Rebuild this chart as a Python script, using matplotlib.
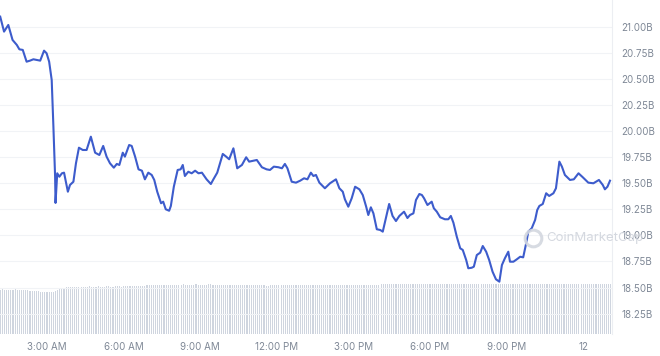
import numpy as np
import matplotlib.pyplot as plt

# market cap line: minutes since midnight -> value in billions USD
minutes = [70, 79, 89, 99, 109, 115, 123, 132, 140, 148, 156, 164, 173, 179, 185,
           191, 195, 199, 200, 204, 209, 215, 220, 229, 234, 242, 248, 255, 264, 273,
           283, 293, 303, 312, 320, 328, 337, 344, 350, 358, 363, 373, 379, 387, 395,
           403, 410, 418, 426, 432, 439, 448, 453, 459, 467, 471, 478, 487, 494, 499,
           504, 512, 520, 528, 536, 544, 555, 565, 571, 580, 593, 601, 608, 618, 627,
           638, 648, 655, 665, 673, 685, 696, 704, 713, 724, 732, 739, 745, 755, 765,
           775, 784, 792, 800, 806, 812, 820, 833, 845, 859, 867, 875, 880, 888, 896,
           904, 914, 922, 930, 935, 941, 947, 955, 963, 969, 977, 984, 992, 1000, 1008,
           1019, 1027, 1033, 1041, 1047, 1055, 1061, 1066, 1074, 1084, 1089, 1096, 1104, 1115, 1123,
           1129, 1135, 1143, 1151, 1157, 1165, 1170, 1178, 1183, 1190, 1198, 1204, 1212, 1219, 1227,
           1235, 1243, 1249, 1256, 1264, 1268, 1276, 1284, 1292, 1299, 1306, 1311, 1319, 1327, 1332,
           1337, 1345, 1353, 1360, 1370, 1376, 1384, 1390, 1397, 1409, 1418, 1429, 1439, 1452, 1464,
           1477, 1486, 1491, 1497, 1503]
market_cap = [21.104, 20.960, 21.024, 20.880, 20.832, 20.790, 20.784, 20.671, 20.681, 20.694,
              20.688, 20.681, 20.777, 20.752, 20.671, 20.495, 20.046, 19.565, 19.313, 19.598,
              19.565, 19.598, 19.604, 19.421, 19.486, 19.517, 19.694, 19.844, 19.822, 19.822,
              19.950, 19.796, 19.774, 19.861, 19.758, 19.694, 19.652, 19.688, 19.678, 19.796,
              19.758, 19.870, 19.861, 19.758, 19.636, 19.623, 19.540, 19.604, 19.582, 19.534,
              19.421, 19.310, 19.325, 19.252, 19.238, 19.284, 19.469, 19.630, 19.636, 19.678,
              19.572, 19.613, 19.598, 19.623, 19.598, 19.604, 19.540, 19.495, 19.540, 19.604,
              19.784, 19.758, 19.733, 19.838, 19.646, 19.678, 19.752, 19.710, 19.719, 19.726,
              19.656, 19.636, 19.630, 19.662, 19.656, 19.646, 19.688, 19.646, 19.517, 19.508,
              19.527, 19.550, 19.540, 19.604, 19.572, 19.582, 19.508, 19.454, 19.502, 19.540,
              19.454, 19.421, 19.348, 19.277, 19.358, 19.469, 19.444, 19.389, 19.277, 19.197,
              19.271, 19.213, 19.060, 19.053, 19.037, 19.181, 19.303, 19.188, 19.139, 19.188,
              19.229, 19.168, 19.197, 19.213, 19.341, 19.399, 19.389, 19.358, 19.293, 19.325,
              19.262, 19.229, 19.175, 19.156, 19.156, 19.188, 19.123, 18.988, 18.877, 18.861,
              18.765, 18.685, 18.690, 18.700, 18.812, 18.835, 18.899, 18.844, 18.765, 18.652,
              18.579, 18.556, 18.716, 18.781, 18.844, 18.748, 18.748, 18.771, 18.796, 18.790,
              18.925, 19.037, 19.069, 19.149, 19.245, 19.284, 19.303, 19.406, 19.380, 19.406,
              19.454, 19.710, 19.662, 19.582, 19.534, 19.540, 19.598, 19.560, 19.508, 19.502,
              19.534, 19.486, 19.444, 19.469, 19.527]

# volume bars, one every 5 minutes starting 1:10 AM (billions USD)
vol_start = 70
volume = [
    0.90, 0.91, 0.90, 0.90, 0.89, 0.90, 0.90, 0.91, 0.90, 0.89, 0.89, 0.90, 0.89, 0.89, 0.88, 0.88, 0.88, 0.87, 0.87, 0.86, 0.86, 0.85, 0.85, 0.85,
    0.85, 0.86, 0.88, 0.90, 0.92, 0.93, 0.94, 0.95, 0.95, 0.96, 0.96, 0.96, 0.96, 0.95, 0.96, 0.96, 0.96, 0.96, 0.97, 0.96, 0.96, 0.96, 0.97, 0.96,
    0.96, 0.96, 0.97, 0.97, 0.96, 0.96, 0.97, 0.97, 0.97, 0.96, 0.97, 0.97, 0.97, 0.97, 0.98, 0.98, 0.97, 0.98, 0.98, 0.98, 0.98, 0.99, 0.99, 0.99,
    0.99, 1.00, 1.00, 0.99, 1.00, 1.00, 1.00, 1.00, 1.00, 1.00, 0.99, 1.00, 1.00, 1.00, 1.01, 1.00, 1.00, 1.00, 1.00, 1.00, 1.01, 1.00, 1.00, 1.00,
    1.00, 1.00, 1.01, 1.01, 1.00, 1.00, 1.00, 1.00, 1.00, 1.00, 1.00, 1.00, 1.00, 0.99, 0.99, 1.00, 0.99, 0.99, 0.99, 0.99, 0.99, 0.99, 0.99, 0.99,
    0.99, 0.99, 0.99, 0.99, 0.99, 0.98, 0.98, 0.99, 0.99, 0.99, 0.99, 0.99, 0.99, 0.99, 0.99, 0.99, 0.99, 0.99, 0.99, 0.99, 1.00, 1.00, 1.00, 1.00,
    1.00, 1.00, 1.00, 1.00, 1.00, 1.00, 1.00, 1.00, 1.00, 1.00, 1.00, 1.00, 1.00, 1.00, 1.00, 1.00, 1.00, 1.00, 1.00, 1.00, 1.00, 1.00, 1.00, 1.00,
    1.00, 1.00, 1.00, 1.00, 1.00, 1.00, 1.00, 1.00, 1.00, 1.00, 1.00, 1.01, 1.01, 1.01, 1.01, 1.01, 1.01, 1.01, 1.01, 1.01, 1.01, 1.01, 1.01, 1.01,
    1.01, 1.01, 1.01, 1.01, 1.01, 1.01, 1.01, 1.01, 1.01, 1.01, 1.01, 1.01, 1.01, 1.01, 1.01, 1.01, 1.02, 1.02, 1.02, 1.02, 1.02, 1.02, 1.02, 1.02,
    1.02, 1.02, 1.02, 1.02, 1.02, 1.02, 1.02, 1.02, 1.02, 1.02, 1.02, 1.02, 1.02, 1.02, 1.02, 1.02, 1.02, 1.02, 1.02, 1.02, 1.02, 1.02, 1.02, 1.02,
    1.02, 1.02, 1.02, 1.02, 1.02, 1.02, 1.02, 1.02, 1.02, 1.02, 1.02, 1.02, 1.02, 1.02, 1.02, 1.02, 1.02, 1.02, 1.02, 1.02, 1.02, 1.02, 1.02, 1.02,
    1.02, 1.02, 1.02, 1.02, 1.02, 1.02, 1.02, 1.02, 1.02, 1.02, 1.02, 1.02, 1.02, 1.02, 1.02, 1.02, 1.02, 1.02, 1.02, 1.02, 1.02, 1.02, 1.02, 1.02,
]
vol_minutes = vol_start + 5 * np.arange(len(volume))

x_ticks = [180, 360, 540, 720, 900, 1080, 1260, 1440]
x_labels = ['3:00 AM', '6:00 AM', '9:00 AM', '12:00 PM', '3:00 PM', '6:00 PM', '9:00 PM', '12']
y_ticks = [18.25, 18.50, 18.75, 19.00, 19.25, 19.50, 19.75, 20.00, 20.25, 20.50, 20.75, 21.00]

plt.rcParams['font.family'] = ['Inter', 'DejaVu Sans']

fig = plt.figure(figsize=(6.6, 3.56), dpi=100)
ax = fig.add_axes([0, 22 / 356, 612 / 660, 334 / 356])
ax2 = ax.twinx()

# volume bars underneath
ax2.bar(vol_minutes, volume, width=2.6, color='#cfd5df', linewidth=0, align='center')
ax2.set_ylim(0, 6.8)
ax2.set_yticks([])
ax2.set_zorder(0)
for s in ax2.spines.values():
    s.set_visible(False)

ax.set_zorder(1)
ax.patch.set_visible(False)
ax.plot(minutes, market_cap, color='#3d5ccc', lw=1.5, solid_joinstyle='round')

ax.set_xlim(69.5, 1507.7)
ax.set_ylim(18.053, 21.264)
ax.set_yticks(y_ticks)
ax.set_yticklabels([f'{v:.2f}B' for v in y_ticks])
ax.yaxis.tick_right()
ax.set_xticks(x_ticks)
ax.set_xticklabels(x_labels)
ax.tick_params(axis='both', length=0, colors='#7f8896', labelsize=7)
ax.tick_params(axis='y', pad=7)
ax.tick_params(axis='x', pad=6)
ax.grid(axis='y', color='#f1f3f6', lw=0.8)
ax.grid(axis='x', visible=False)
for name, s in ax.spines.items():
    s.set_visible(name == 'right')
ax.spines['right'].set_color('#eceef2')
ax.spines['right'].set_linewidth(0.8)

# watermark (logo ring + name), partly under the right-hand labels
ax.plot([533 / 612], [(334 - 238) / 334], marker='o', ms=12, mfc='none', mec='#d3d7df',
        mew=2.2, zorder=5, alpha=0.9, transform=ax.transAxes, clip_on=False)
ax.text(546 / 612, (334 - 238) / 334, 'CoinMarketCap', transform=ax.transAxes,
        fontsize=9.5, color='#d0d4dc', va='center', ha='left', zorder=5,
        clip_on=False, alpha=0.9)

fig.savefig('out.png', dpi=100)
